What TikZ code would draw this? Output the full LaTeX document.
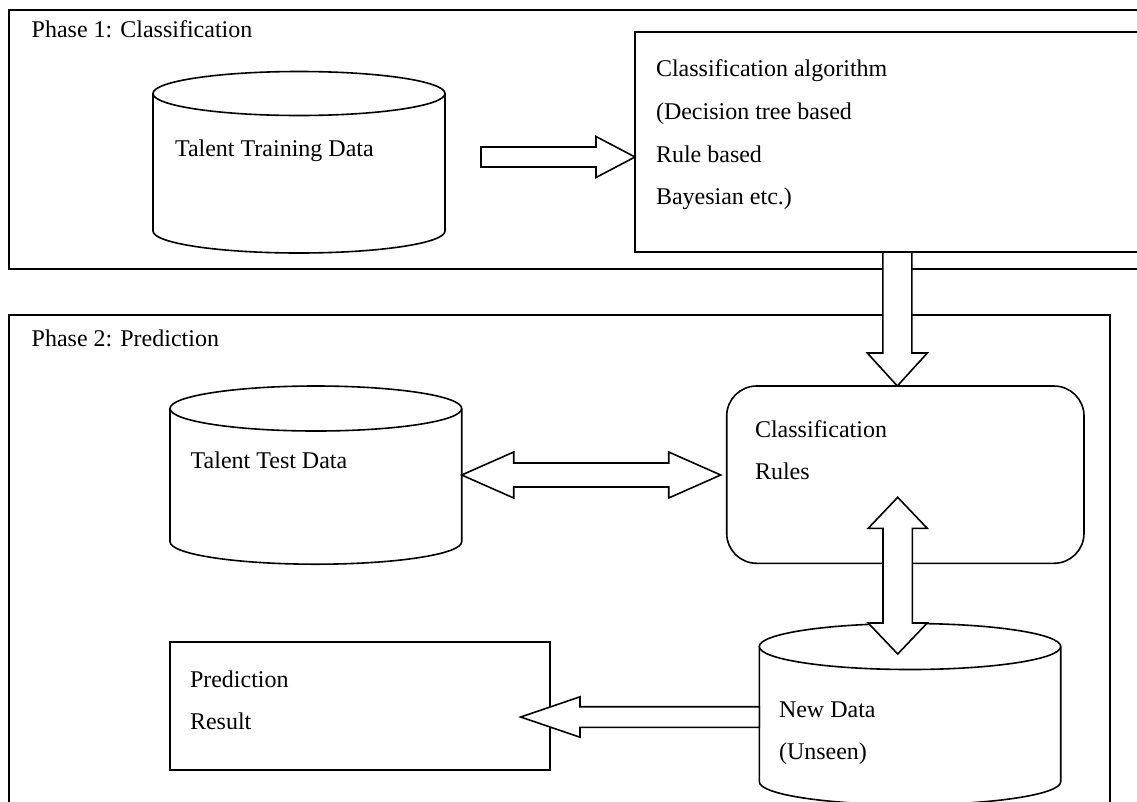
\documentclass[tikz,border=0pt]{standalone}
\usepackage{fontspec}
\setmainfont{Liberation Serif}
\usetikzlibrary{calc}
\tikzset{
  lbl/.style={anchor=base west, inner sep=0pt, outer sep=0pt, font=\fontsize{24}{28}\selectfont},
  phasebox/.style={draw, line width=2pt, inner sep=0pt, outer sep=0pt, anchor=north west},
  procbox/.style={draw, line width=1.6pt, fill=white, inner sep=0pt, outer sep=0pt, anchor=north west},
  cylline/.style={draw, line width=1.6pt, fill=white},
  arrowst/.style={draw, line width=1.6pt, fill=white, line join=miter},
  anchornode/.style={inner sep=0pt, outer sep=0pt}
}
% cylinder: name, left x, right x, top-ellipse centre y, bottom-ellipse centre y, y radius
\newcommand{\drawcyl}[6]{%
  \pgfmathsetmacro{\mycylcx}{(#2+#3)/2}%
  \pgfmathsetmacro{\mycylrx}{(#3-#2)/2}%
  \draw[cylline] (#2,#4) -- (#2,#5) arc[start angle=180,end angle=360,x radius=\mycylrx,y radius=#6] -- (#3,#4);
  \draw[cylline] (\mycylcx,#4) ellipse[x radius=\mycylrx,y radius=#6];
  \node[anchornode, minimum width={(#3)-(#2)}, minimum height={(#4)-(#5)+2*#6}] (#1) at (\mycylcx,{((#4)+(#5))/2}) {};
}
% single block arrow: start, tip, shaft half width, head half width, head length
\newcommand{\sarrow}[5]{%
  \coordinate (saH) at ($(#2)!#5!(#1)$);
  \draw[arrowst] ($(#1)!#3!90:(#2)$) -- ($(saH)!#3!90:(#2)$) -- ($(saH)!#4!90:(#2)$) -- (#2)
     -- ($(saH)!#4!-90:(#2)$) -- ($(saH)!#3!-90:(#2)$) -- ($(#1)!#3!-90:(#2)$) -- cycle;
}
% double block arrow: tip, tip, shaft half width, head half width, head length
\newcommand{\darrow}[5]{%
  \coordinate (daA) at ($(#1)!#5!(#2)$);
  \coordinate (daB) at ($(#2)!#5!(#1)$);
  \draw[arrowst] (#1) -- ($(daA)!#4!90:(#2)$) -- ($(daA)!#3!90:(#2)$) -- ($(daB)!#3!-90:(#1)$)
     -- ($(daB)!#4!-90:(#1)$) -- (#2) -- ($(daB)!#4!90:(#1)$) -- ($(daB)!#3!90:(#1)$)
     -- ($(daA)!#3!-90:(#2)$) -- ($(daA)!#4!-90:(#2)$) -- cycle;
}
\begin{document}
\begin{tikzpicture}[x=1pt,y=1pt]
\useasboundingbox (0,0) rectangle (1137,-801);
\clip (0,0) rectangle (1137,-801);

% phase frames
\node[phasebox, minimum width=1141, minimum height=259] (p1) at (9.3,-9.5) {};
\node[phasebox, minimum width=1100.7, minimum height=520] (p2) at (9.3,-315) {};

% boxes
\node[procbox, minimum width=515, minimum height=220.3] (alg) at (635,-31.7) {};
\node[procbox, rounded corners=30pt, minimum width=357.3, minimum height=177.3] (rules) at (726.7,-386) {};
\node[procbox, minimum width=380, minimum height=128.3] (pred) at (170,-641.7) {};

% cylinders
\drawcyl{tdata}{153}{445}{-93.5}{-231}{22}
\drawcyl{ttest}{170}{461.7}{-408.5}{-541.7}{22.5}
\drawcyl{ndata}{759.3}{1060.7}{-646.5}{-781.7}{23}

% arrows
\coordinate (a1s) at (481,-157);
\coordinate (a1t) at (a1s -| alg.west);
\sarrow{a1s}{a1t}{10pt}{20.5pt}{39pt}

\coordinate (a2x) at (897.3,0);
\coordinate (a2s) at (a2x |- alg.south);
\coordinate (a2t) at (a2x |- rules.north);
\sarrow{a2s}{a2t}{14.5pt}{30pt}{33pt}

\coordinate (a3y) at (0,-475);
\coordinate (a3s) at (a3y -| ttest.east);
\coordinate (a3t) at ($(a3y -| rules.west)+(-6,0)$);
\darrow{a3s}{a3t}{12pt}{23pt}{52pt}

\coordinate (a4s) at (897.7,-497.3);
\coordinate (a4t) at (897.7,-654);
\darrow{a4s}{a4t}{14.7pt}{29.5pt}{31pt}

\coordinate (a5y) at (0,-717);
\coordinate (a5s) at (a5y -| ndata.west);
\coordinate (a5t) at (520.7,-717);
\sarrow{a5s}{a5t}{10.3pt}{20.2pt}{59.3pt}

% texts
\node[lbl] (t1) at (31.7,-37) {Phase 1: Classification};
\node[lbl] (t2) at (175,-156) {Talent Training Data};
\node[lbl] (t3) at (656,-76.5) {Classification algorithm};
\node[lbl] (t4) at (656,-119.5) {(Decision tree based};
\node[lbl] (t5) at (656,-162) {Rule based};
\node[lbl] (t6) at (656,-204.5) {Bayesian etc.)};
\node[lbl] (t7) at (31.7,-346) {Phase 2: Prediction};
\node[lbl] (t8) at (190.7,-468) {Talent Test Data};
\node[lbl] (t9) at (755,-437) {Classification};
\node[lbl] (t10) at (755,-479.5) {Rules};
\node[lbl] (t11) at (190,-687) {Prediction};
\node[lbl] (t12) at (190,-729.5) {Result};
\node[lbl] (t13) at (779,-717) {New Data};
\node[lbl] (t14) at (779,-759.5) {(Unseen)};
\end{tikzpicture}
\end{document}
